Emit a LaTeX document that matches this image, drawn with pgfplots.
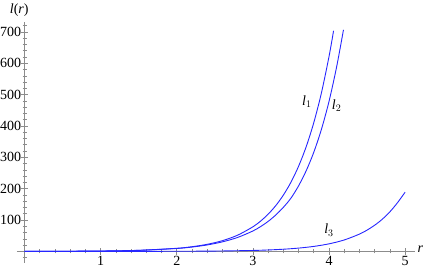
\documentclass[border=0pt]{standalone}
\usepackage{pgfplots}
\pgfplotsset{compat=1.18}
\usepackage{fontspec}
\setmainfont{Liberation Serif}
\definecolor{curve}{rgb}{0.15,0.15,1}
\definecolor{axgray}{rgb}{0.55,0.55,0.55}
\begin{document}
\begin{tikzpicture}[font=\rmfamily\fontsize{14}{16}\selectfont]
\begin{axis}[
  at={(0,0)}, anchor=south west,
  scale only axis, width=398pt, height=241pt,
  xmin=-0.1, xmax=5.13, ymin=-37, ymax=732,
  axis lines=middle,
  axis line style={axgray, line width=0.8pt, -},
  xtick={1,2,3,4,5}, xticklabels={1,2,3,4,5},
  ytick={100,200,...,700}, yticklabels={100,200,300,400,500,600,700},
  minor xtick={-0.2,0.2,0.4,...,5.2},
  minor ytick={-20,20,40,...,720},
  tick align=center,
  major tick length=7pt, minor tick length=4pt,
  tick style={draw=black!45, line width=0.7pt},
  xtick style={draw=black!45, line width=0.7pt},
  tick label style={black, font=\rmfamily\fontsize{14}{16}\selectfont},
  xticklabel style={yshift=2pt},
  yticklabel style={xshift=3.5pt},
  clip=false,
]
\addplot[curve, line width=0.9pt, smooth] coordinates {
(0,0.157) (0.5,0.44) (1,1.25) (1.5,3.52) (2,9.9) (2.2,14.98) (2.4,22.66) (2.6,34.28)
(2.8,51.86) (3,78.5) (3.1,96.5) (3.2,118.7) (3.3,146.0) (3.4,179.6) (3.5,220.8)
(3.6,271.6) (3.7,334.0) (3.8,410.9) (3.9,505.4) (4,621.6) (4.06,704)};
\addplot[curve, line width=0.9pt, smooth] coordinates {
(0,0.15) (0.5,0.42) (1,1.19) (1.5,3.3) (2,9.4) (2.2,13.9) (2.4,20.6) (2.6,30.5)
(2.8,44.6) (3,65.2) (3.1,79.1) (3.2,95.7) (3.3,116.1) (3.4,140.6) (3.5,170)
(3.6,209.1) (3.7,257.2) (3.8,316.4) (3.9,389.2) (4,478.6) (4.1,588.7) (4.19,707)};
\addplot[curve, line width=0.9pt, smooth] coordinates {
(0,0.006) (1,0.05) (2,0.43) (2.5,1.08) (3,3.04) (3.2,4.60) (3.4,6.96) (3.6,10.53)
(3.8,15.94) (4,24.11) (4.2,36.48) (4.4,55.2) (4.5,68.0) (4.6,83.5) (4.7,102.7)
(4.8,126.3) (4.9,155.4) (5,189)};
\node at (axis cs:3.71,477) {\textit{l}$_1$};
\node at (axis cs:4.10,466) {\textit{l}$_2$};
\node at (axis cs:4.0,68) {\textit{l}$_3$};
\node at (axis cs:-0.07,770) {\textit{l}(\textit{r})};
\node at (axis cs:5.2,6) {\textit{r}};
\end{axis}
\pgfresetboundingbox
\path[use as bounding box] (-17pt,-8pt) rectangle (407pt,263pt);
\end{tikzpicture}
\end{document}
